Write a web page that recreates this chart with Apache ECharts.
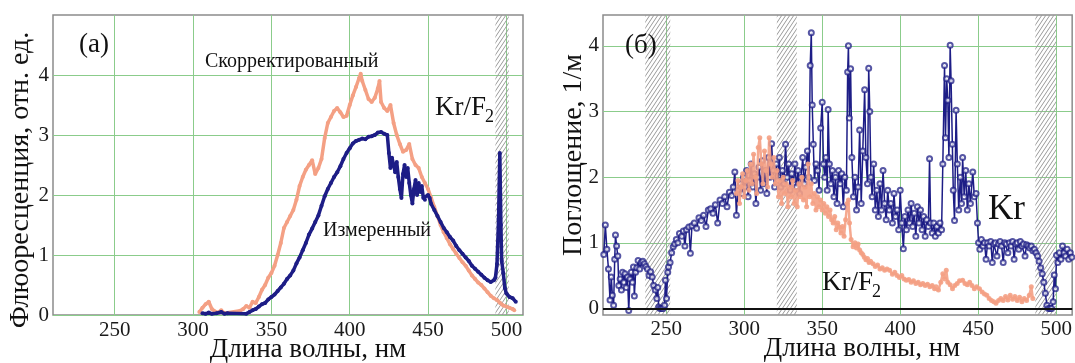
<!DOCTYPE html>
<html>
<head>
<meta charset="utf-8">
<script src="https://cdn.jsdelivr.net/npm/echarts@6/dist/echarts.min.js"></script>
<style>
  html, body { margin: 0; padding: 0; background: #fff; }
  #chart { width: 1075px; height: 363px; }
</style>
</head>
<body>
<div id="chart"></div>
<script>
// (а) fluorescence, [wavelength nm, value]
const measured = [
  [306, 0.03], [308, 0.02], [310, 0.04], [312, 0.02], [315, 0.03], [318, 0.05], [320, 0.02], [322, 0.03],
  [334, 0.02], [336, 0.05], [338, 0.08], [340, 0.1], [342, 0.14], [344, 0.18], [346, 0.2], [348, 0.26],
  [350, 0.3], [352, 0.34], [354, 0.4], [356, 0.46], [358, 0.52], [360, 0.6], [362, 0.66], [364, 0.74],
  [366, 0.86], [368, 0.96], [370, 1.08], [372, 1.2], [374, 1.34], [376, 1.44], [378, 1.55], [380, 1.66],
  [382, 1.82], [384, 1.98], [386, 2.1], [388, 2.2], [390, 2.3], [392, 2.38], [394, 2.48], [396, 2.6],
  [398, 2.7], [400, 2.78], [402, 2.86], [404, 2.9], [406, 2.92], [408, 2.94], [410, 2.93], [412, 2.97],
  [414, 2.98], [416, 3.0], [418, 3.04], [420, 3.05], [422, 3.02], [424, 3.0], [425, 2.7], [426, 2.45],
  [427, 2.62], [428, 2.5], [429, 2.38], [430, 2.55], [431, 2.3], [432, 2.1], [433, 1.95], [434, 2.35],
  [435, 2.5], [436, 2.3], [437, 2.45], [438, 2.2], [439, 2.0], [440, 1.86], [441, 2.1], [442, 2.25],
  [443, 2.0], [444, 2.2], [445, 2.05], [446, 2.15], [447, 1.95], [448, 1.92], [450, 2.0], [451, 1.95],
  [452, 1.85], [454, 1.75], [456, 1.65], [458, 1.55], [460, 1.45], [462, 1.38], [464, 1.3], [466, 1.24],
  [468, 1.15], [470, 1.08], [472, 1.02], [474, 0.96], [476, 0.9], [478, 0.82], [480, 0.77], [482, 0.72],
  [484, 0.67], [486, 0.62], [488, 0.58], [490, 0.55], [492, 0.58], [493, 0.62], [494, 0.85], [495, 1.6],
  [495.8, 2.7], [496.5, 1.5], [497, 0.9], [498, 0.7], [499, 0.45], [500, 0.36], [502, 0.3], [504, 0.28],
  [506, 0.22]
];

const corrected = [
  [304, 0.05], [306, 0.12], [308, 0.18], [310, 0.22], [312, 0.1], [314, 0.06], [316, 0.04], [318, 0.08],
  [320, 0.03], [330, 0.07], [332, 0.1], [334, 0.15], [336, 0.12], [338, 0.22], [340, 0.2], [342, 0.3],
  [344, 0.42], [346, 0.5], [348, 0.62], [350, 0.7], [352, 0.82], [354, 1.0], [356, 1.2], [358, 1.45],
  [360, 1.55], [362, 1.65], [364, 1.75], [366, 1.92], [368, 2.15], [370, 2.3], [372, 2.42], [374, 2.5],
  [376, 2.58], [378, 2.35], [380, 2.45], [382, 2.6], [384, 2.95], [386, 3.2], [388, 3.3], [390, 3.4],
  [392, 3.45], [394, 3.38], [396, 3.3], [398, 3.32], [400, 3.5], [402, 3.66], [404, 3.8], [406, 3.95],
  [407, 4.02], [408, 3.9], [410, 3.75], [412, 3.6], [414, 3.55], [416, 3.62], [418, 3.78], [419, 3.9],
  [420, 3.55], [422, 3.45], [424, 3.4], [426, 3.5], [428, 3.2], [430, 3.0], [432, 2.85], [434, 2.72],
  [436, 2.75], [438, 2.85], [440, 2.6], [442, 2.5], [444, 2.45], [446, 2.3], [448, 2.2], [450, 2.1],
  [452, 1.95], [454, 1.8], [456, 1.65], [458, 1.5], [460, 1.38], [462, 1.28], [464, 1.18], [466, 1.1],
  [468, 1.02], [470, 0.95], [472, 0.88], [474, 0.82], [476, 0.74], [478, 0.66], [480, 0.6], [482, 0.54],
  [484, 0.5], [486, 0.44], [488, 0.38], [490, 0.32], [492, 0.28], [494, 0.25], [496, 0.2], [498, 0.16],
  [500, 0.14], [502, 0.12], [504, 0.1], [505, 0.08]
];

// (б) absorption, [wavelength nm, 1/m]
const krAbs = [
  [210, 0.82], [211, 1.27], [212, 0.9], [213, 0.6], [214, 0.13], [214.8, 0.48], [215.5, 0.2], [216.3, 0.05],
  [217, 0.75], [217.5, 1.12], [218.2, 0.95], [219, 0.8], [219.6, 0.35], [220.5, 0.45], [221.3, 0.28], [222, 0.55],
  [222.8, 0.4], [223.6, 0.53], [224.4, 0.32], [225.2, 0.48], [226, -0.03], [226.8, 0.45], [227.6, 0.55], [228.4, 0.4],
  [229, 0.63], [229.6, 0.19], [230.4, 0.55], [231.2, 0.62], [232, 0.73], [233, 0.6], [234, 0.7], [235, 0.72],
  [236, 0.68], [237, 0.64], [238, 0.6], [239, 0.5], [240, 0.56], [241, 0.48], [242, 0.35], [243, 0.28],
  [244, 0.15], [244.6, 0.32], [245.2, 0.02], [246, 0], [247, 0], [248, 0], [249, 0.05], [249.5, 0.43],
  [250.2, 0.15], [251, 0.55], [251.5, 0.63], [252.5, 0.7], [253.5, 0.85], [254.5, 0.94], [255.5, 0.98], [256.5, 1.05],
  [257.5, 1.0], [258.5, 1.14], [260, 1.1], [261, 1.18], [262, 0.95], [263, 1.2], [264.5, 1.24], [265.5, 0.84],
  [266.5, 1.26], [268, 1.3], [269.5, 1.22], [271, 1.38], [272.5, 1.34], [274, 1.42], [275.5, 1.25], [277, 1.5],
  [278.5, 1.52], [280, 1.45], [281.5, 1.58], [283, 1.3], [284.5, 1.65], [286, 1.6], [287.5, 1.7], [289, 1.55],
  [290.5, 1.77], [292, 1.72], [293, 1.85], [294, 2.08], [295, 1.42], [296, 1.8], [297.5, 1.9], [298.5, 1.75],
  [299.5, 2.0], [300.5, 1.85], [301.5, 2.1], [302.5, 1.7], [303.5, 1.95], [304.5, 2.2], [305.5, 1.85], [306.5, 2.05],
  [307.5, 1.6], [308.5, 2.0], [309.5, 2.15], [310.5, 1.8], [311.5, 2.25], [312.5, 1.9], [313.5, 2.1], [314.5, 1.75],
  [315.5, 2.3], [316.5, 2.0], [317.6, 2.51], [318.5, 2.1], [319.5, 1.85], [320.5, 2.2], [321.5, 1.95], [322.5, 2.3],
  [323.5, 1.85], [324.5, 2.1], [325.5, 1.9], [326.5, 2.5], [327.5, 2.0], [328.5, 2.2], [329.5, 1.8], [330.5, 2.05],
  [331.5, 1.9], [332.5, 2.2], [333.5, 1.85], [334.5, 2.1], [335.5, 1.75], [336.5, 2.0], [337.5, 2.3], [338.5, 1.9],
  [339.5, 2.15], [340.5, 2.4], [341.5, 2.0], [342.3, 3.7], [343, 4.2], [343.6, 3.1], [344.3, 2.5], [345, 1.95],
  [346, 2.2], [347, 2.1], [348, 1.8], [349, 2.75], [350, 3.14], [350.8, 2.2], [351.6, 2.0], [352.4, 2.3],
  [353.2, 1.8], [353.8, 3.03], [354.6, 2.2], [355.5, 1.9], [356.5, 2.1], [357.5, 1.7], [358.5, 2.0], [359.5, 1.6],
  [360.5, 2.1], [361.5, 1.9], [362.5, 2.05], [363.5, 1.55], [364.5, 2.0], [365.5, 1.8], [366.3, 3.6], [366.8, 4.0],
  [367.4, 2.9], [368.2, 3.65], [369, 2.3], [370, 1.7], [371, 2.0], [372, 1.5], [373, 1.85], [374, 2.72],
  [375, 1.6], [376, 2.4], [377.2, 3.33], [378, 2.3], [379, 1.9], [379.8, 3.66], [380.5, 3.0], [381.2, 2.0],
  [382, 1.7], [383, 2.2], [384, 1.5], [385, 1.8], [386, 1.4], [387, 1.9], [388, 1.5], [389, 2.1],
  [390, 1.6], [391, 1.35], [392, 1.8], [393, 1.5], [394, 1.6], [395, 1.3], [396, 1.75], [397, 1.4],
  [398, 1.5], [399, 1.2], [400, 1.8], [401, 1.3], [402, 0.91], [403, 1.4], [404, 1.2], [405, 1.5],
  [406, 1.3], [407, 1.6], [408, 1.25], [409, 1.45], [410, 1.1], [411, 1.55], [412, 1.3], [413, 1.5],
  [414, 1.2], [415, 1.4], [416, 1.1], [417, 1.35], [418, 1.25], [418.8, 2.28], [419.5, 1.3], [420.5, 1.15],
  [421.5, 1.3], [422.5, 1.1], [423.5, 1.25], [424.5, 1.15], [425.5, 1.3], [426.5, 1.2], [427.3, 2.2], [428.4, 3.7],
  [429, 2.6], [429.8, 3.5], [430.5, 3.17], [431.2, 2.3], [432, 4.01], [432.6, 3.47], [433.4, 2.5], [434, 1.8],
  [434.8, 1.34], [435.8, 3.02], [436.6, 2.2], [437.5, 1.5], [438.5, 2.0], [439.3, 1.6], [440, 2.3], [441, 1.7],
  [442, 2.1], [443, 1.5], [444, 1.9], [445, 1.6], [446.5, 2.08], [447.5, 1.7], [448.6, 1.75], [449.5, 1.3],
  [450.2, 1.0], [451, 0.9], [452, 1.05], [453, 0.95], [454, 1.0], [455, 0.75], [456, 1.0], [457, 0.95],
  [458, 1.02], [459, 0.7], [460, 0.98], [461, 1.0], [462, 0.8], [463, 0.98], [464, 1.02], [465, 0.95],
  [466, 0.7], [467, 1.0], [468, 0.98], [469, 0.85], [470, 1.0], [471, 0.95], [472, 1.02], [473, 0.75],
  [474, 0.98], [475, 1.0], [476, 0.9], [477, 1.02], [478, 0.95], [479, 0.98], [480, 0.8], [481, 0.97],
  [482, 0.95], [483, 0.92], [484, 0.95], [485, 0.88], [486, 0.9], [487, 0.85], [488, 0.8], [489, 0.72],
  [490, 0.62], [491, 0.53], [492, 0.4], [493, 0.23], [494, 0.05], [495, 0], [496, 0], [497, 0],
  [498, 0.1], [498.7, 0.51], [499.5, 0.3], [500.2, 0.81], [501, 0.7], [502, 0.85], [503, 0.75], [504, 0.95],
  [505, 0.85], [506, 0.8], [507, 0.9], [508, 0.75], [509, 0.85], [510, 0.78]
];

const krf2Abs = [
  [295, 1.75], [296, 1.95], [297, 1.6], [298, 1.85], [299, 2.05], [300, 1.7], [301, 1.95], [302, 2.1],
  [303, 1.8], [304, 2.2], [305, 1.9], [306, 2.35], [307, 2.0], [308, 1.75], [309, 2.45], [310, 2.6],
  [311, 2.2], [312, 1.9], [313, 2.4], [314, 2.1], [315, 1.85], [316, 2.6], [317, 2.2], [318, 2.0],
  [319, 2.3], [320, 1.9], [321, 2.1], [322, 1.7], [323, 1.95], [324, 1.6], [325, 2.0], [326, 1.75],
  [327, 1.9], [328, 1.55], [329, 1.85], [330, 1.7], [331, 1.95], [332, 1.6], [333, 1.8], [334, 1.55],
  [335, 1.9], [336, 1.7], [337, 2.0], [338, 1.65], [339, 1.85], [340, 1.55], [341, 2.2], [342, 1.7],
  [343, 1.9], [344, 1.6], [345, 1.75], [346, 1.5], [347, 1.7], [348, 1.55], [349, 1.65], [350, 1.5],
  [351, 1.6], [352, 1.45], [353, 1.55], [354, 1.4], [355, 1.5], [356, 1.35], [357, 1.3], [358, 1.4],
  [359, 1.2], [360, 1.3], [361, 1.24], [362, 1.15], [363, 1.25], [364, 1.1], [365, 1.35], [366, 1.6],
  [366.8, 1.65], [367.5, 1.3], [368.5, 1.05], [369.8, 0.94], [371, 1.0], [372, 0.92], [373, 0.98], [374, 0.89],
  [375, 0.85], [376, 0.82], [377, 0.78], [378, 0.74], [379, 0.76], [380, 0.7], [381, 0.72], [382.6, 0.68],
  [384, 0.64], [385.5, 0.66], [387, 0.6], [388.5, 0.62], [390, 0.58], [391.5, 0.6], [393.2, 0.58], [395, 0.52],
  [396.5, 0.55], [398, 0.5], [399.5, 0.47], [401, 0.5], [402.5, 0.45], [403.9, 0.43], [405.5, 0.44], [407, 0.4],
  [408.5, 0.42], [410, 0.38], [411.5, 0.4], [413, 0.36], [414.5, 0.38], [416, 0.35], [417.5, 0.37], [419, 0.33],
  [420.5, 0.35], [422, 0.3], [423, 0.33], [424.5, 0.28], [426, 0.4], [427.3, 0.53], [428.5, 0.45], [429.5, 0.58],
  [430.5, 0.4], [432, 0.36], [433.5, 0.3], [435, 0.35], [436.5, 0.38], [438, 0.42], [440, 0.43], [441.5, 0.38],
  [443, 0.36], [444.5, 0.4], [446, 0.35], [447.5, 0.3], [449, 0.33], [450.8, 0.3], [452.5, 0.25], [454, 0.22],
  [455.5, 0.2], [457, 0.15], [458.5, 0.12], [460, 0.1], [461.4, 0.08], [463, 0.12], [464.5, 0.15], [466, 0.12],
  [467.5, 0.18], [469, 0.13], [470.5, 0.2], [472, 0.14], [473.5, 0.18], [475, 0.12], [476.5, 0.17], [478, 0.1],
  [479.5, 0.15], [481, 0.12], [482.7, 0.2], [484, 0.33], [485, 0.15]
];

// hatched (excluded) wavelength bands
const bandsA = [[493, 501.5]];
const bandsB = [[236.6, 252.6], [320.9, 333.7], [486.6, 500]];

const xTicks = [250, 300, 350, 400, 450, 500];
const yTicks = [0, 1, 2, 3, 4];

const NAVY = "#1d1d86";
const SALMON = "#f4a084";
const GRID_GREEN = "#8bcc8b";
const FONT = '"Liberation Serif", "DejaVu Serif", serif';

function hatchPattern() {
  const c = document.createElement("canvas");
  c.width = 4;
  c.height = 6;
  const g = c.getContext("2d");
  g.strokeStyle = "#9a9a9a";
  g.lineWidth = 1;
  g.beginPath();
  g.moveTo(0, 6);
  g.lineTo(4, 0);
  g.moveTo(-1, 1.5);
  g.lineTo(1, -1.5);
  g.moveTo(3, 7.5);
  g.lineTo(5, 4.5);
  g.stroke();
  return { image: c, repeat: "repeat" };
}

const hatch = hatchPattern();

function bandArea(bands) {
  return {
    silent: true,
    itemStyle: { color: hatch, opacity: 1 },
    data: bands.map((b) => [{ xAxis: b[0] }, { xAxis: b[1] }]),
  };
}

function xAxisFor(gridIndex, min, max, margin) {
  return {
    type: "value",
    gridIndex: gridIndex,
    min: min,
    max: max,
    axisLine: { show: false },
    axisTick: { show: false, customValues: xTicks },
    axisLabel: {
      customValues: xTicks,
      fontFamily: FONT,
      fontSize: 21,
      color: "#1a1a1a",
      margin: margin,
    },
    splitLine: { show: true, lineStyle: { color: GRID_GREEN, width: 1 } },
  };
}

function yAxisFor(gridIndex, min, max) {
  return {
    type: "value",
    gridIndex: gridIndex,
    min: min,
    max: max,
    axisLine: { show: false },
    axisTick: { show: false, customValues: yTicks },
    axisLabel: {
      customValues: yTicks,
      fontFamily: FONT,
      fontSize: 21,
      color: "#1a1a1a",
      margin: 4,
    },
    splitLine: { show: true, lineStyle: { color: GRID_GREEN, width: 1 } },
  };
}

function text(str, x, y, size, extra) {
  return Object.assign(
    {
      type: "text",
      x: x,
      y: y,
      silent: true,
      z: 100,
      style: {
        text: str,
        font: size + "px " + FONT,
        fill: "#111",
        align: "left",
        verticalAlign: "middle",
        textAlign: "left",
        textVerticalAlign: "middle",
      },
    },
    extra || {}
  );
}

function centered(str, x, y, size, rotation) {
  const t = text(str, x, y, size, { rotation: rotation || 0 });
  t.style.align = "center";
  t.style.textAlign = "center";
  return t;
}

const chart = echarts.init(document.getElementById("chart"), null, { renderer: "canvas" });

chart.setOption({
  animation: false,
  backgroundColor: "#fff",
  grid: [
    { left: 53, top: 15, width: 470, height: 300, show: true, borderColor: "#8c8c8c", borderWidth: 1.5 },
    { left: 603, top: 15, width: 470, height: 300, show: true, borderColor: "#8c8c8c", borderWidth: 1.5 },
  ],
  xAxis: [xAxisFor(0, 210.6, 510.6, 5), xAxisFor(1, 209.5, 510.2, 4)],
  yAxis: [yAxisFor(0, 0, 5), yAxisFor(1, -0.1, 4.47)],
  series: [
    {
      name: "Скорректированный",
      type: "line",
      xAxisIndex: 0,
      yAxisIndex: 0,
      data: corrected,
      symbol: "circle",
      symbolSize: 4,
      itemStyle: { color: SALMON },
      lineStyle: { color: SALMON, width: 3.5 },
      markArea: bandArea(bandsA),
      z: 2,
    },
    {
      name: "Измеренный",
      type: "line",
      xAxisIndex: 0,
      yAxisIndex: 0,
      data: measured,
      symbol: "circle",
      symbolSize: 4,
      itemStyle: { color: NAVY },
      lineStyle: { color: NAVY, width: 3.5 },
      z: 3,
    },
    {
      name: "Kr",
      type: "line",
      xAxisIndex: 1,
      yAxisIndex: 1,
      data: krAbs,
      symbol: "emptyCircle",
      symbolSize: 5,
      itemStyle: { color: NAVY, borderColor: NAVY, borderWidth: 1, opacity: 0.75 },
      lineStyle: { color: NAVY, width: 1.5 },
      markArea: bandArea(bandsB),
      markLine: {
        silent: true,
        symbol: ["none", "none"],
        label: { show: false },
        lineStyle: { color: "#111", width: 1.8, type: "solid" },
        data: [{ yAxis: 0 }],
      },
      z: 2,
    },
    {
      name: "Kr/F2",
      type: "line",
      xAxisIndex: 1,
      yAxisIndex: 1,
      data: krf2Abs,
      symbol: "circle",
      symbolSize: 5,
      itemStyle: { color: SALMON, opacity: 0.9 },
      lineStyle: { color: SALMON, width: 2.5, opacity: 0.9 },
      z: 3,
    },
  ],
  graphic: [
    centered("Флюоресценция, отн. ед.", 21, 180, 28, Math.PI / 2),
    centered("Длина волны, нм", 308, 350, 27),
    centered("Поглощение, 1/м", 574, 155, 28, Math.PI / 2),
    centered("Длина волны, нм", 862, 349, 27),
    text("(a)", 79, 45, 27),
    text("Скорректированный", 205, 62, 20),
    text("Измеренный", 323, 231, 20),
    text("Kr/F", 435, 108, 27),
    text("2", 485, 117, 18),
    text("(б)", 625, 46, 27),
    text("Kr", 988, 210, 35),
    text("Kr/F", 822, 283, 27),
    text("2", 872, 292, 18),
  ],
});
</script>
</body>
</html>
